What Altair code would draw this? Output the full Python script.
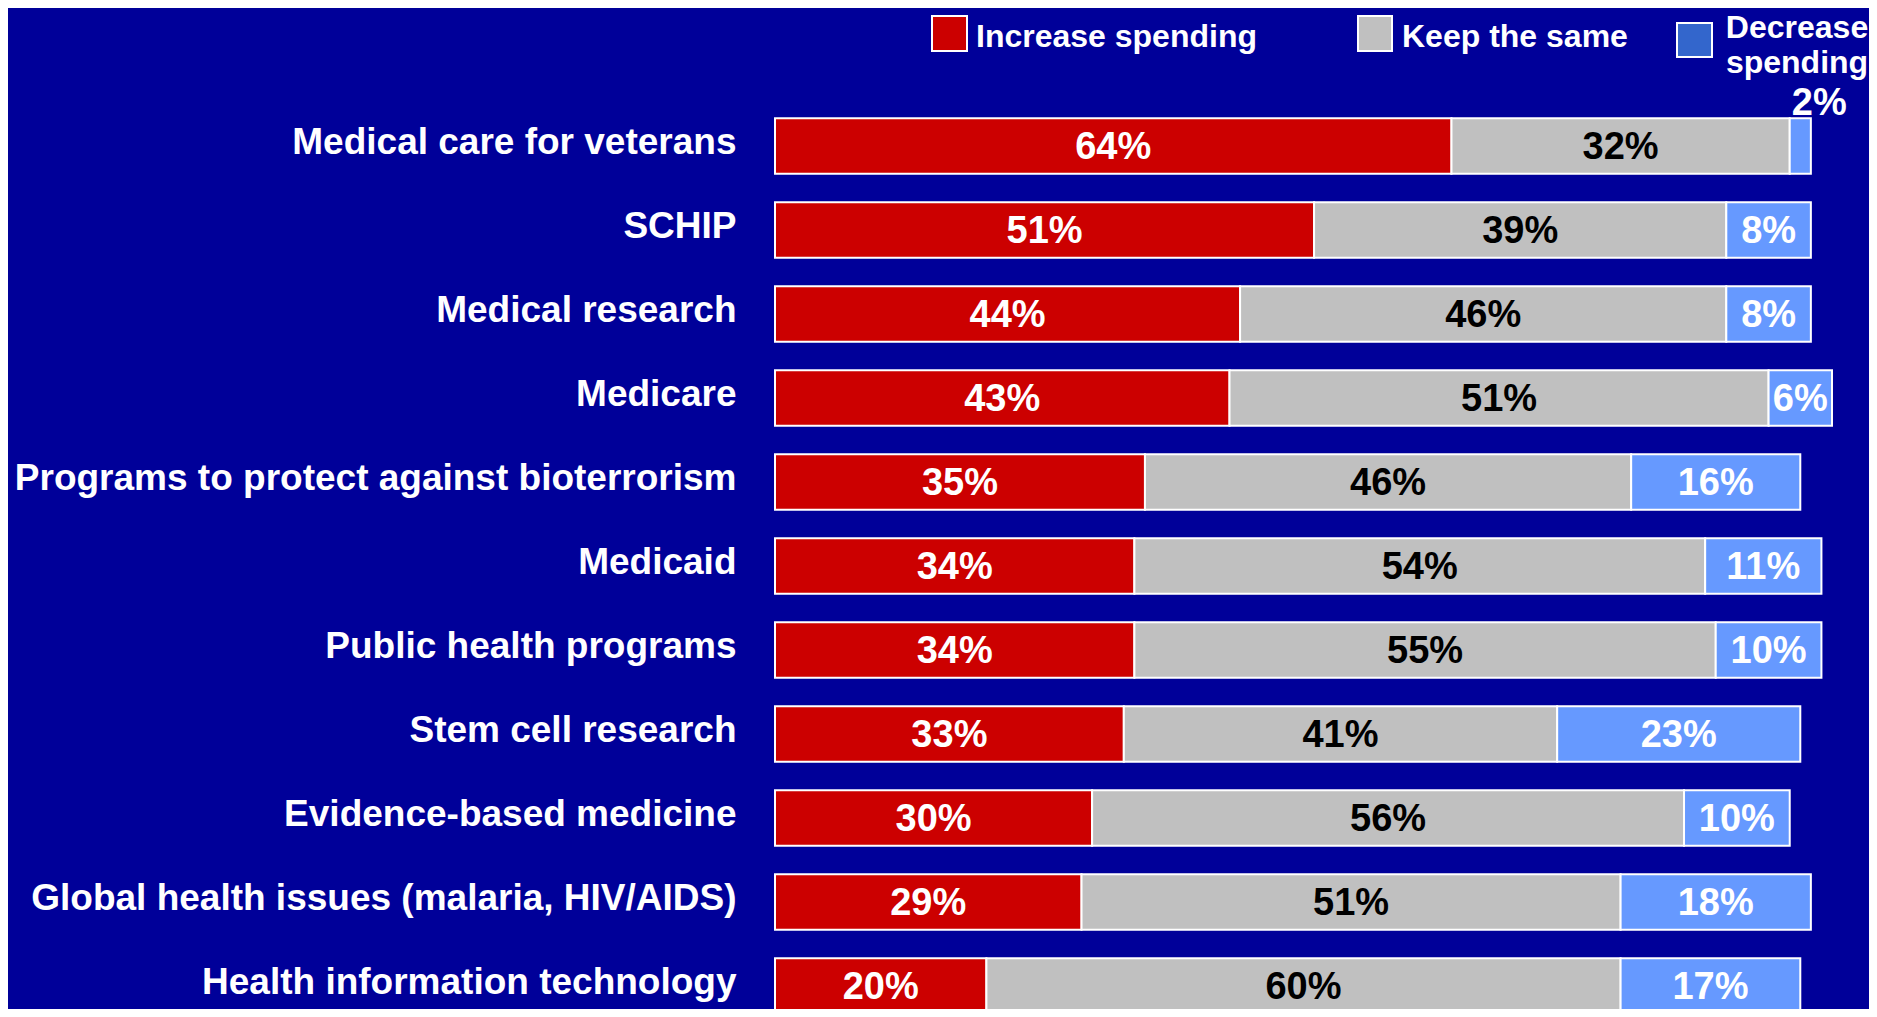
import altair as alt
import pandas as pd

categories = [
    "Medical care for veterans",
    "SCHIP",
    "Medical research",
    "Medicare",
    "Programs to protect against bioterrorism",
    "Medicaid",
    "Public health programs",
    "Stem cell research",
    "Evidence-based medicine",
    "Global health issues (malaria, HIV/AIDS)",
    "Health information technology",
]
responses = ["Increase spending", "Keep the same", "Decrease spending"]
increase = [64, 51, 44, 43, 35, 34, 34, 33, 30, 29, 20]
same = [32, 39, 46, 51, 46, 54, 55, 41, 56, 51, 60]
decrease = [2, 8, 8, 6, 16, 11, 10, 23, 10, 18, 17]

bar_colors = ["#CC0000", "#C0C0C0", "#6699FF"]
legend_colors = ["#CC0000", "#C0C0C0", "#3366CC"]
BG = "#000099"
FONT = "Liberation Sans"

rows = []
for i, cat in enumerate(categories):
    for j, vals in enumerate([increase, same, decrease]):
        rows.append({"category": cat, "response": responses[j], "value": vals[i], "order": j})
df = pd.DataFrame(rows)

ysc = alt.Scale(domain=categories, range=[0, 924], paddingInner=0.339, paddingOuter=0.1695)
xsc = alt.Scale(domain=[0, 100], nice=False, zero=True)

y_enc = alt.Y(
    "category:N",
    scale=ysc,
    sort=categories,
    title=None,
    axis=alt.Axis(
        domain=False, ticks=False, grid=False,
        labelFont=FONT, labelFontSize=37, labelFontWeight="bold",
        labelColor="white", labelPadding=39, labelLimit=900, labelOffset=-3,
    ),
)

base = (
    alt.Chart(df)
    .transform_stack(
        stack="value", groupby=["category"], as_=["x0", "x1"],
        sort=[alt.SortField("order", "ascending")],
    )
    .transform_calculate(mid="(datum.x0 + datum.x1) / 2", label="datum.value + '%'")
)

bars = base.mark_bar(stroke="white", strokeWidth=2).encode(
    y=y_enc,
    x=alt.X("x0:Q", scale=xsc, axis=None),
    x2="x1:Q",
    color=alt.Color("response:N", scale=alt.Scale(domain=responses, range=bar_colors), legend=None),
)

text_color = alt.condition("datum.response == 'Keep the same'", alt.value("black"), alt.value("white"))

labels = base.transform_filter("datum.value >= 5").mark_text(
    font=FONT, fontSize=38, fontWeight="bold", baseline="alphabetic", dy=12.5
).encode(
    y=y_enc,
    x=alt.X("mid:Q", scale=xsc, axis=None),
    text="label:N",
    color=text_color,
)

small_labels = base.transform_filter("datum.value < 5").mark_text(
    font=FONT, fontSize=38, fontWeight="bold", baseline="alphabetic", dx=19, dy=-31
).encode(
    y=y_enc,
    x=alt.X("mid:Q", scale=xsc, axis=None),
    text="label:N",
    color=alt.value("white"),
)


def legend_box(i, x1, x2, y1, y2):
    return alt.Chart(alt.Data(values=[{"label": responses[i]}])).mark_rect(
        fill=legend_colors[i], stroke="white", strokeWidth=2
    ).encode(x=alt.value(x1), x2=alt.value(x2), y=alt.value(y1), y2=alt.value(y2))


def legend_text(i, x, y, align="left", **kw):
    return alt.Chart(alt.Data(values=[{"label": responses[i]}])).mark_text(
        font=FONT, fontSize=32, fontWeight="bold", color="white",
        align=align, baseline="alphabetic", **kw
    ).encode(x=alt.value(x), y=alt.value(y), text="label:N")


legend = [
    legend_box(0, 157, 192, -88, -53),
    legend_text(0, 201, -57),
    legend_box(1, 583, 617, -88, -53),
    legend_text(1, 627, -57),
    legend_box(2, 902, 937, -81, -47),
    legend_text(2, 1022, -66, align="center", lineBreak=" ", lineHeight=35),
]

chart = (
    alt.layer(bars, labels, small_labels, *legend)
    .properties(
        width=1057,
        height=905,
        background=BG,
        padding={"left": 767, "top": 96, "right": 37, "bottom": 0},
        autosize=alt.AutoSizeParams(type="none"),
    )
    .configure_view(stroke=None)
)

chart.save("out.html", embed_options={"renderer": "svg", "actions": False})
